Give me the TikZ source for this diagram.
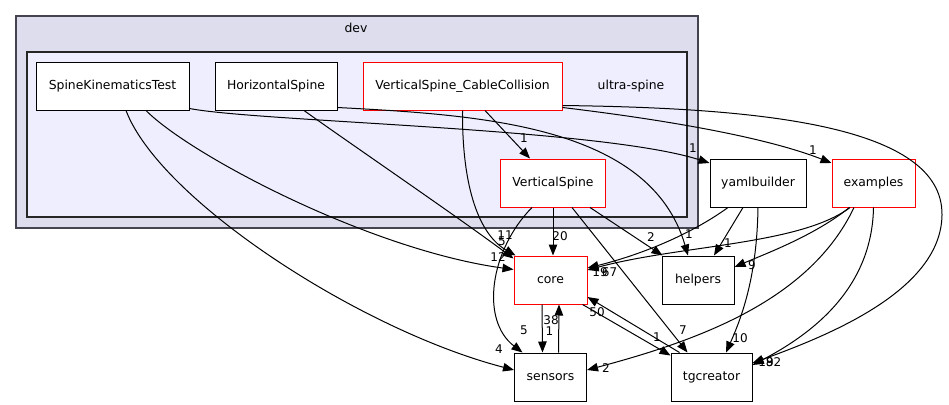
\documentclass[tikz,border=0pt]{standalone}
\usepackage{fontspec}
\setmainfont{DejaVu Sans}
\usetikzlibrary{arrows.meta,positioning}
\definecolor{devfill}{HTML}{DDDDEE}
\definecolor{usfill}{HTML}{EEEEFF}
\definecolor{devline}{HTML}{444450}
\tikzset
{
    dirnode/.style  = {rectangle, draw=black, fill=white, line width=1pt, minimum height=48pt, minimum width=72pt, inner xsep=10pt, font=\fontsize{12.4}{14}\selectfont},
    dirred/.style   = {dirnode, draw=red},
    outerdir/.style = {rectangle, draw=devline, fill=devfill, line width=1.6pt, inner sep=0pt},
    innerdir/.style = {rectangle, draw=black!85, fill=usfill, line width=1.2pt, inner sep=0pt},
    dirlabel/.style = {font=\fontsize{12.4}{14}\selectfont},
    edgenum/.style  = {font=\fontsize{12}{13}\selectfont, inner sep=0pt},
    arrow/.style    = {line width=1pt, -{Triangle[length=11pt,width=8.5pt]}}
}

\begin{document}
\begin{tikzpicture}[x=1pt, y=-1pt]
	\useasboundingbox (0,0) rectangle (949,404);
	\node (dev) [outerdir, minimum width=682pt, minimum height=212pt] at (357,122) {};
	\node (us) [innerdir, minimum width=660pt, minimum height=165pt] at (357,134.5) {};
	\node (devl) [dirlabel] at (356,28) {dev};
	\node (usl) [dirlabel] at (631,86) {ultra-spine};

	\node (vscc) [dirred, minimum width=199pt] at (462.5,86) {VerticalSpine\_CableCollision};
	\node (hspine) [dirnode, minimum width=122pt, left=25pt of vscc] {HorizontalSpine};
	\node (skt) [dirnode, minimum width=153pt, left=25pt of hspine] {SpineKinematicsTest};
	\node (vspine) [dirred, minimum width=105pt, below=48pt of vscc, xshift=90.5pt] {VerticalSpine};
	\node (yaml) [dirnode, minimum width=96pt, right=103.5pt of vspine] {yamlbuilder};
	\node (examples) [dirred, minimum width=83pt, right=25pt of yaml] {examples};
	\node (core) [dirred, minimum width=73pt, below=48pt of vspine, xshift=-2.5pt] {core};
	\node (helpers) [dirnode, right=74pt of core] {helpers};
	\node (sensors) [dirnode, below=48pt of core] {sensors};
	\node (tgc) [dirnode, minimum width=81pt, below=48pt of helpers, xshift=13.5pt] {tgcreator};

	\draw [arrow] ([xshift=13.5pt]skt.south) .. controls (160,200) and (360,330) .. ([yshift=7pt]sensors.west);
	\draw [arrow] ([xshift=33.5pt]skt.south) .. controls (190,155) and (370,250) .. ([yshift=10.5pt]core.west);
	\draw [arrow] ([yshift=2pt]skt.south east) .. controls (260,122) and (600,128) .. ([yshift=20pt]yaml.west);
	\draw [arrow] ([xshift=28pt]hspine.south) .. controls (345,140) and (455,215) .. ([yshift=-3pt]core.north west);
	\draw [arrow] ([yshift=3pt]hspine.south east) .. controls (480,115) and (650,125) .. ([xshift=-10pt]helpers.north);
	\draw [arrow] ([xshift=22.5pt]vscc.south) -- ([xshift=-23pt]vspine.north);
	\draw [arrow] (vscc.south) .. controls (462,190) and (480,235) .. ([xshift=2pt]core.north west);
	\draw [arrow] ([yshift=3pt]vscc.south east) .. controls (650,118) and (760,135) .. ([yshift=20pt]examples.west);
	\draw [arrow] ([yshift=5pt]vscc.south east) .. controls (760,108) and (943,125) .. (942,215) .. controls (941,290) and (830,335) .. ([yshift=14pt]tgc.east);
	\draw [arrow] (vspine.south) -- ([xshift=2.5pt]core.north);
	\draw [arrow] ([xshift=-21pt]vspine.south) .. controls (490,250) and (480,320) .. ([xshift=-28pt]sensors.north);
	\draw [arrow] ([xshift=37pt]vspine.south) -- ([xshift=1pt]helpers.north west);
	\draw [arrow] ([xshift=19pt]vspine.south) -- ([xshift=-24pt]tgc.north);
	\draw [arrow] ([xshift=-8.5pt]core.south) -- ([xshift=-8pt]sensors.north);
	\draw [arrow] ([xshift=8pt]sensors.north) -- ([xshift=8.5pt]core.south);
	\draw [arrow] ([xshift=32pt]core.south) -- ([yshift=-3pt]tgc.north west);
	\draw [arrow] ([xshift=-32pt]tgc.north) -- ([yshift=-17pt]core.east);
	\draw [arrow] ([xshift=-30pt]yaml.south) .. controls (690,235) and (640,255) .. ([yshift=12pt]core.east);
	\draw [arrow] ([xshift=-15pt]yaml.south) -- ([xshift=16pt]helpers.north);
	\draw [arrow] (yaml.south) .. controls (757,270) and (745,310) .. ([xshift=14.5pt]tgc.north);
	\draw [arrow] ([xshift=-23.5pt]examples.south) .. controls (800,245) and (680,245) .. ([yshift=10pt]core.east);
	\draw [arrow] ([xshift=-24pt]examples.south) .. controls (815,235) and (770,252) .. ([yshift=13pt]helpers.east);
	\draw [arrow] ([xshift=-19.5pt]examples.south) .. controls (810,300) and (700,340) .. ([yshift=7pt]sensors.east);
	\draw [arrow] (examples.south) .. controls (872,290) and (810,335) .. ([yshift=12pt]tgc.east);

	\node (n1) [edgenum] at (499,349) {4};
	\node (n2) [edgenum] at (498,257) {12};
	\node (n3) [edgenum] at (505,235) {11};
	\node (n4) [edgenum] at (502,241) {5};
	\node (n5) [edgenum] at (693,148) {1};
	\node (n6) [edgenum] at (689,234) {1};
	\node (n7) [edgenum] at (524,138) {1};
	\node (n8) [edgenum] at (813,150) {1};
	\node (n9) [edgenum] at (560,236) {20};
	\node (n10) [edgenum] at (524,330) {5};
	\node (n11) [edgenum] at (651,237) {2};
	\node (n12) [edgenum] at (683,330) {7};
	\node (n13) [edgenum] at (551,320) {38};
	\node (n14) [edgenum] at (549.5,331) {1};
	\node (n15) [edgenum] at (657,337) {1};
	\node (n16) [edgenum] at (597,312) {50};
	\node (n17) [edgenum] at (600,272) {19};
	\node (n18) [edgenum] at (609.5,272) {67};
	\node (n19) [edgenum] at (606,368) {2};
	\node (n20) [edgenum] at (728,243) {1};
	\node (n21) [edgenum] at (752,265) {9};
	\node (n22) [edgenum] at (740,338) {10};
	\node (n23) [edgenum] at (766,362) {19};
	\node (n24) [edgenum] at (773.5,362) {82};
\end{tikzpicture}
\end{document}
